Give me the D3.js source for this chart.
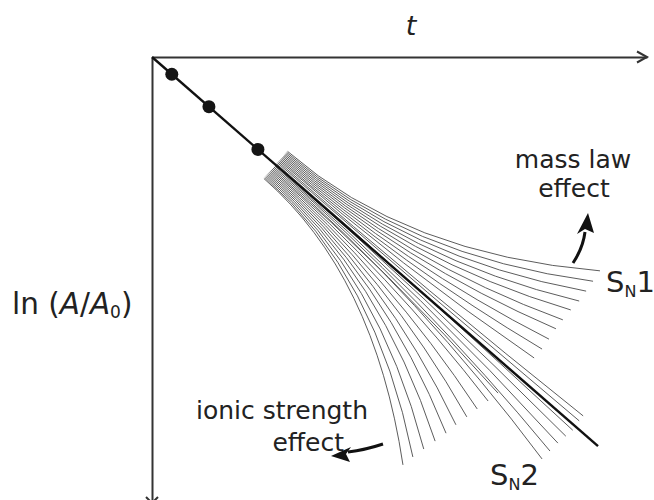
<!DOCTYPE html>
<html>
<head>
<meta charset="utf-8">
<script src="https://cdn.jsdelivr.net/npm/d3@7"></script>
<style>
  html, body { margin: 0; padding: 0; background: #fff; }
  svg { display: block; }
  text { font-family: "DejaVu Sans", sans-serif; fill: #222; }
</style>
</head>
<body>
<svg id="chart" width="654" height="500"></svg>
<script>
// ---- data (t, ln(A/A0)) ----
const mainT  = [0, 9.01];
const mainLn = [0, -7.86];
const dotT   = [0.40, 1.15, 2.14];
const fanStartT = 2.5;
// fan curve end points, ordered from top (SN1) to bottom (SN2)
const fanEndT  = [9.05, 8.91, 8.77, 8.63, 8.46, 8.30, 8.16, 8.02, 7.88, 7.72,
                  8.71, 8.63,
                  8.50, 8.36, 8.20, 8.04, 7.88,
                  6.99, 6.79, 6.57, 6.36, 6.14, 5.94, 5.72, 5.49, 5.27, 5.07];
const fanEndLn = [-4.32, -4.53, -4.73, -4.93, -5.11, -5.31, -5.49, -5.70, -5.90, -6.08,
                  -7.25, -7.35,
                  -7.54, -7.66, -7.80, -7.96, -8.12,
                  -6.79, -6.95, -7.11, -7.27, -7.43, -7.60, -7.76, -7.92, -8.08, -8.24];

const svg = d3.select("#chart");
const x = d3.scaleLinear().domain([0, 10]).range([152, 647]);
const y = d3.scaleLinear().domain([0, -9]).range([57, 502.5]);

// axes
const axColor = "#333";
const gx = svg.append("g").attr("transform", `translate(0,${y(0)})`)
  .call(d3.axisTop(x).tickValues([]).tickSizeOuter(0));
const gy = svg.append("g").attr("transform", `translate(${x(0)},0)`)
  .call(d3.axisLeft(y).tickValues([]).tickSizeOuter(0));
[gx, gy].forEach(g => g.select(".domain").attr("stroke", axColor).attr("stroke-width", 2));

// arrow chevrons on axes
const xe = x(10), y0 = y(0);
svg.append("path").attr("d", `M${xe-10},${y0-5.5}L${xe},${y0}L${xe-10},${y0+5.5}`)
  .attr("fill", "none").attr("stroke", axColor).attr("stroke-width", 2);
const ye = y(-9) + 0.5, x0 = x(0);
svg.append("path").attr("d", `M${x0-6},${ye-6}L${x0},${ye}L${x0+6},${ye-6}`)
  .attr("fill", "none").attr("stroke", axColor).attr("stroke-width", 2);

// fan curves
const slope = mainLn[1] / mainT[1];
const mx0 = x(mainT[0]), my0 = y(mainLn[0]);
const mx1 = x(mainT[1]), my1 = y(mainLn[1]);
const L = Math.hypot(mx1 - mx0, my1 - my0);
const dir = [(mx1 - mx0) / L, (my1 - my0) / L];
const perp = [dir[1], -dir[0]];
const start = [x(fanStartT), y(fanStartT * slope)];
const n = fanEndT.length;
const spread = 18;
const fan = svg.append("g").attr("fill", "none").attr("stroke", "#4a4a4a").attr("stroke-width", 0.9);
fanEndT.forEach((t, i) => {
  const o = spread - (2 * spread) * i / (n - 1);
  const p0 = [start[0] + perp[0] * o, start[1] + perp[1] * o];
  const p2 = [x(t), y(fanEndLn[i])];
  const U = (p2[0] - p0[0]) * dir[0] + (p2[1] - p0[1]) * dir[1];
  const p1 = [p0[0] + dir[0] * U / 2, p0[1] + dir[1] * U / 2];
  const path = d3.path();
  path.moveTo(p0[0], p0[1]);
  path.quadraticCurveTo(p1[0], p1[1], p2[0], p2[1]);
  fan.append("path").attr("d", path.toString());
});

// main line
svg.append("line")
  .attr("x1", x(mainT[0])).attr("y1", y(mainLn[0]))
  .attr("x2", x(mainT[1])).attr("y2", y(mainLn[1]))
  .attr("stroke", "#111").attr("stroke-width", 2.4);

// dots
svg.selectAll("circle.dot").data(dotT).enter().append("circle")
  .attr("class", "dot")
  .attr("cx", d => x(d)).attr("cy", d => y(d * slope))
  .attr("r", 6.5).attr("fill", "#151515");

// labels
svg.append("text").attr("x", 411).attr("y", 35).attr("text-anchor", "middle")
  .attr("font-size", 27).attr("font-style", "italic").text("t");

const yl = svg.append("text").attr("x", 12).attr("y", 314).attr("font-size", 29.5);
yl.append("tspan").text("ln (");
yl.append("tspan").attr("font-style", "italic").text("A");
yl.append("tspan").text("/");
yl.append("tspan").attr("font-style", "italic").text("A");
yl.append("tspan").attr("font-size", 17).attr("dy", 4).text("0");
yl.append("tspan").attr("dy", -4).text(")");

svg.append("text").attr("x", 573).attr("y", 168).attr("text-anchor", "middle")
  .attr("font-size", 25).text("mass law");
svg.append("text").attr("x", 574).attr("y", 197).attr("text-anchor", "middle")
  .attr("font-size", 25).text("effect");

svg.append("text").attr("x", 196).attr("y", 419).attr("font-size", 25).text("ionic strength");
svg.append("text").attr("x", 344).attr("y", 451).attr("text-anchor", "end")
  .attr("font-size", 25).text("effect");

const s1 = svg.append("text").attr("x", 606).attr("y", 292).attr("font-size", 29);
s1.append("tspan").text("S");
s1.append("tspan").attr("font-size", 16).attr("dy", 5).text("N");
s1.append("tspan").attr("dy", -5).text("1");

const s2 = svg.append("text").attr("x", 490).attr("y", 485).attr("font-size", 29);
s2.append("tspan").text("S");
s2.append("tspan").attr("font-size", 16).attr("dy", 5).text("N");
s2.append("tspan").attr("dy", -5).text("2");

// effect arrows
svg.append("path").attr("d", "M573,263 Q583,248 585,232")
  .attr("fill", "none").attr("stroke", "#111").attr("stroke-width", 3);
svg.append("path").attr("d", "M588,213 L594,233 L585,229 L577,234 Z").attr("fill", "#111");
svg.append("path").attr("d", "M383,444 Q365,450 348,452")
  .attr("fill", "none").attr("stroke", "#111").attr("stroke-width", 3);
svg.append("path").attr("d", "M331,456 L351,447 L346,454 L350,462 Z").attr("fill", "#111");
</script>
</body>
</html>
